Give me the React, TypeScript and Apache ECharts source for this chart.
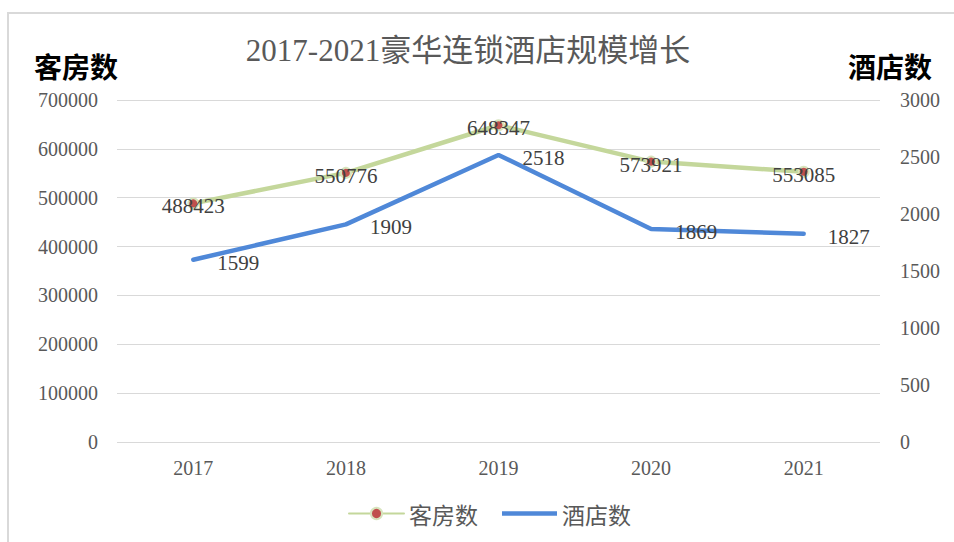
import React, { useEffect, useRef } from "react";
import * as echarts from "echarts";

const titleText = "2017-2021豪华连锁酒店规模增长";
const categories = ["2017", "2018", "2019", "2020", "2021"];
const roomsName = "客房数";
const hotelsName = "酒店数";
const roomsValues = [488423, 550776, 648347, 573921, 553085];
const hotelsValues = [1599, 1909, 2518, 1869, 1827];

const serif = "'Liberation Serif', 'Times New Roman', 'Noto Sans CJK SC', serif";
const cjk = "'Noto Sans CJK SC', sans-serif";

export default function App() {
  const ref = useRef<HTMLDivElement>(null);
  useEffect(() => {
    document.body.style.margin = "0";
    const chart = echarts.init(ref.current!, null, { renderer: "svg" });
    chart.setOption({
      animation: false,
      backgroundColor: "#ffffff",
      title: {
        text: titleText,
        left: 463,
        textAlign: "center",
        top: 30,
        textStyle: { fontFamily: serif, fontSize: 31, fontWeight: "normal", color: "#595959" },
      },
      graphic: [
        { type: "line", shape: { x1: 7, y1: 13, x2: 954, y2: 13 }, style: { stroke: "#d9d9d9", lineWidth: 2 } },
        { type: "line", shape: { x1: 8, y1: 13, x2: 8, y2: 542 }, style: { stroke: "#d9d9d9", lineWidth: 2 } },
        {
          type: "text", left: 34, top: 52,
          style: { text: roomsName, font: `bold 28px ${cjk}`, fill: "#000000" },
        },
        {
          type: "text", right: 22, top: 52,
          style: { text: hotelsName, font: `bold 28px ${cjk}`, fill: "#000000" },
        },
      ],
      legend: {
        bottom: 12,
        left: 343,
        itemWidth: 55,
        itemHeight: 14,
        itemGap: 24,
        textStyle: { fontFamily: cjk, fontSize: 23, color: "#595959" },
        data: [
          { name: roomsName },
          { name: hotelsName, icon: "path://M0,0 H100 V8 H0 Z" },
        ],
      },
      grid: { left: 117, right: 74, top: 100, bottom: 100 },
      xAxis: {
        type: "category",
        data: categories,
        boundaryGap: true,
        axisLine: { show: false },
        axisTick: { show: false },
        axisLabel: { fontFamily: serif, fontSize: 20, color: "#595959", margin: 16 },
      },
      yAxis: [
        {
          type: "value",
          min: 0,
          max: 700000,
          interval: 100000,
          axisLine: { show: false },
          axisTick: { show: false },
          axisLabel: { fontFamily: serif, fontSize: 20, color: "#595959", margin: 19, formatter: (v: number) => String(v) },
          splitLine: { lineStyle: { color: "#d9d9d9", width: 1 } },
        },
        {
          type: "value",
          min: 0,
          max: 3000,
          interval: 500,
          axisLine: { show: false },
          axisTick: { show: false },
          axisLabel: { fontFamily: serif, fontSize: 20, color: "#595959", margin: 20, formatter: (v: number) => String(v) },
          splitLine: { show: false },
        },
      ],
      series: [
        {
          name: roomsName,
          type: "line",
          yAxisIndex: 0,
          data: roomsValues,
          symbol: "circle",
          symbolSize: 10,
          lineStyle: { color: "#C4D79B", width: 4.5, cap: "round" },
          itemStyle: { color: "#C0504D", borderColor: "#D7E4BD", borderWidth: 2 },
          label: {
            show: true,
            position: "inside",
            offset: [0, 3],
            fontFamily: serif,
            fontSize: 21,
            color: "#404040",
          },
          z: 3,
        },
        {
          name: hotelsName,
          type: "line",
          yAxisIndex: 1,
          data: hotelsValues,
          symbol: "circle",
          symbolSize: 0.1,
          showSymbol: true,
          lineStyle: { color: "#4F88D8", width: 4.5, cap: "round" },
          itemStyle: { color: "#4F88D8" },
          label: {
            show: true,
            position: "right",
            distance: 24,
            offset: [0, 3],
            fontFamily: serif,
            fontSize: 21,
            color: "#404040",
          },
          z: 2,
        },
      ],
    });
    return () => chart.dispose();
  }, []);
  return <div ref={ref} style={{ width: 954, height: 542 }} />;
}
